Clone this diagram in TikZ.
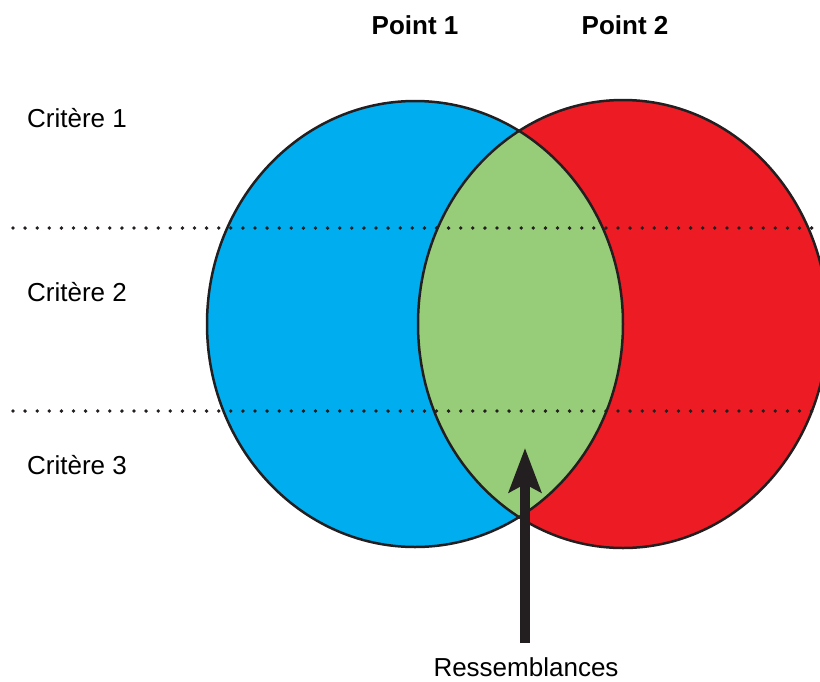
\documentclass[tikz,border=0pt]{standalone}
\usepackage{fontspec}
\setmainfont{Liberation Sans}
\usetikzlibrary{arrows.meta}
\definecolor{venblue}{RGB}{0,174,239}
\definecolor{venred}{RGB}{237,28,36}
\definecolor{vengreen}{RGB}{151,205,120}
\definecolor{venline}{RGB}{35,31,32}
\tikzset{
	critere/.style={anchor=west, inner sep=0pt},
	pointlabel/.style={font=\fontsize{26}{30}\selectfont\bfseries, inner sep=0pt},
	circline/.style={line width=2.5pt, color=venline}
}
\begin{document}
\begin{tikzpicture}[x=1pt, y=1pt, font=\fontsize{26}{30}\selectfont]
		%%%%% START %%%%%
		\useasboundingbox (0, 0) rectangle (820, -681);
		
		\fill[venblue] (415, -324) ellipse [x radius=208, y radius=223];
		\fill[venred] (623, -324) ellipse [x radius=205, y radius=224];
		\begin{scope}
			\clip (415, -324) ellipse [x radius=208, y radius=223];
			\fill[vengreen] (623, -324) ellipse [x radius=205, y radius=224];
		\end{scope}
		\draw[circline] (415, -324) ellipse [x radius=208, y radius=223];
		\draw[circline] (623, -324) ellipse [x radius=205, y radius=224];
		
		% dotted rows
		\foreach \i in {0,...,67} {
			\fill[venline] (13+12.1*\i, -228) circle (1.9);
			\fill[venline] (13+12.1*\i, -411) circle (1.9);
		}
		
		\node[pointlabel] (p1) at (415, -25) {Point 1};
		\node[pointlabel] (p2) at (625, -25) {Point 2};
		
		\node[critere] (c1) at (27, -118) {Critère 1};
		\node[critere] (c2) at (27, -292) {Critère 2};
		\node[critere] (c3) at (27, -465) {Critère 3};
		
		\node[inner sep=0pt] (ress) at (526, -667) {Ressemblances};
		\coordinate (shaft) at (525, -643);
		\coordinate (lens) at (525, -448);
		\draw[line width=10pt, venline, -{Stealth[length=44pt, width=32pt, inset=8pt]}] (shaft) -- (lens);
		
		%%%%% END %%%%%
	\end{tikzpicture}
\end{document}
